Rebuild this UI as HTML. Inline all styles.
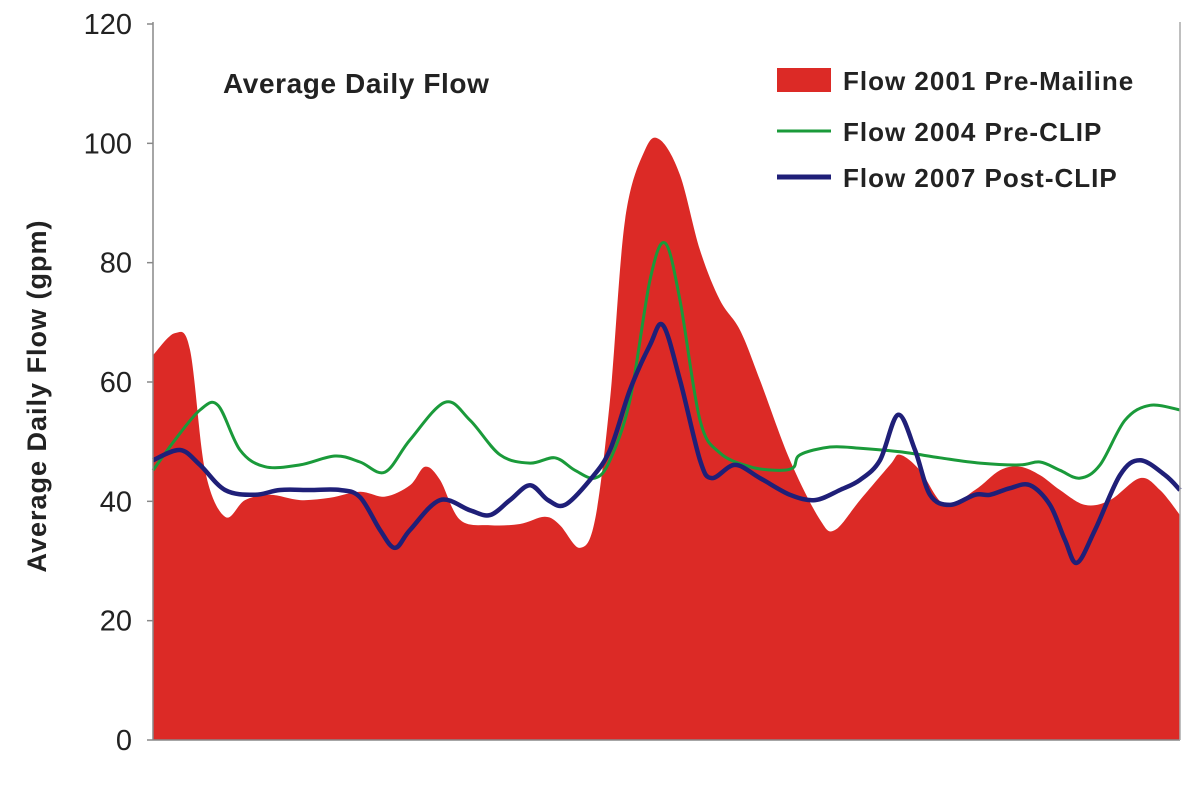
<!DOCTYPE html>
<html><head><meta charset="utf-8"><style>
body{margin:0;background:#fff;}
svg{display:block;font-family:"Liberation Sans",sans-serif;}
</style></head><body>
<svg id="chart" width="1200" height="809" viewBox="0 0 1200 809">
<g id="plot"></g>
<g id="axes"></g>
<text x="223" y="93" font-size="28" font-weight="bold" letter-spacing="0.6" fill="#222">Average Daily Flow</text>
<text transform="translate(46,396) rotate(-90)" text-anchor="middle" font-size="27" font-weight="bold" letter-spacing="1" fill="#222">Average Daily Flow (gpm)</text>
<g>
<rect x="777" y="68" width="54" height="24" fill="#dc2a26"/>
<text x="843" y="90" font-size="26" font-weight="bold" letter-spacing="1" fill="#222">Flow 2001 Pre-Mailine</text>
<line x1="777" y1="131" x2="831" y2="131" stroke="#1a9a3a" stroke-width="3"/>
<text x="843" y="141" font-size="26" font-weight="bold" letter-spacing="1" fill="#222">Flow 2004 Pre-CLIP</text>
<line x1="777" y1="177" x2="831" y2="177" stroke="#1f1f78" stroke-width="5"/>
<text x="843" y="187" font-size="26" font-weight="bold" letter-spacing="1" fill="#222">Flow 2007 Post-CLIP</text>
</g>
</svg>
<script>
const yTicks=[0,20,40,60,80,100,120];
const redX=[0,22,37,52,72,92,117,147,177,207,232,257,272,287,307,337,367,392,407,427,442,457,472,492,507,527,547,567,587,607,637,667,682,707,737,747,767,792,822,847,867,887,907,932,957,987,1007,1027];
const redY=[64.5,68.2,65.4,45.2,37.4,40.2,41.1,40.2,40.6,41.6,40.8,42.7,45.8,43.6,36.9,36.0,36.2,37.4,36.0,32.2,36.9,57.0,87.1,98.9,100.6,94.7,82.1,73.7,68.7,60.3,46.9,36.9,35.2,40.2,46.1,47.8,45.2,39.4,41.9,45.2,45.8,44.4,41.9,39.4,40.2,43.9,41.9,37.7];
const greenX=[0,22,47,65,87,112,147,182,207,232,257,292,317,347,377,402,422,442,457,477,497,512,527,547,567,597,622,640,647,677,707,747,787,827,867,887,907,927,947,972,997,1027];
const greenY=[45.2,50.3,55.3,56.1,48.6,45.8,46.1,47.6,46.6,44.9,50.3,56.6,53.6,47.8,46.4,47.3,45.2,43.9,46.9,57.0,77.1,83.3,73.7,53.6,48.1,45.8,45.2,45.6,47.8,49.1,48.9,48.3,47.3,46.4,46.1,46.6,45.2,43.9,46.1,53.6,56.1,55.3];
const blueX=[0,27,47,72,102,127,157,187,207,227,242,257,287,317,337,357,377,395,412,437,457,477,497,510,527,547,559,582,607,637,662,687,707,727,745,762,777,797,822,837,857,877,897,912,924,942,967,987,1012,1027];
const blueY=[46.9,48.6,46.1,41.9,41.1,41.9,41.9,41.9,40.7,35.2,32.2,35.2,40.2,38.5,37.7,40.2,42.7,40.2,39.4,43.6,48.6,58.7,66.2,69.5,60.3,46.9,43.9,46.1,43.9,41.1,40.2,41.9,43.6,46.9,54.5,48.6,41.1,39.4,41.1,41.1,42.2,42.7,39.4,33.5,29.7,35.2,44.4,46.9,44.4,41.9];

const NS='http://www.w3.org/2000/svg';
const X0=153,X1=1180,Y0=740,Y1=24,XMAX=1027,YMAX=120;
function sx(v){return X0+v/XMAX*(X1-X0);}
function sy(v){return Y0-v/YMAX*(Y0-Y1);}
function smooth(xs,ys){
  const p=xs.map((x,i)=>[sx(x),sy(ys[i])]);
  let d='M'+p[0][0].toFixed(1)+','+p[0][1].toFixed(1);
  for(let i=0;i<p.length-1;i++){
    const a=p[Math.max(0,i-1)],b=p[i],c=p[i+1],e=p[Math.min(p.length-1,i+2)];
    const c1=[b[0]+(c[0]-a[0])/6,b[1]+(c[1]-a[1])/6],c2=[c[0]-(e[0]-b[0])/6,c[1]-(e[1]-b[1])/6];
    d+='C'+c1[0].toFixed(1)+','+c1[1].toFixed(1)+' '+c2[0].toFixed(1)+','+c2[1].toFixed(1)+' '+c[0].toFixed(1)+','+c[1].toFixed(1);
  }
  return d;
}
const plot=document.getElementById('plot'),axes=document.getElementById('axes');
const area=document.createElementNS(NS,'path');


area.setAttribute('d','M'+sx(redX[0])+','+Y0+'L'+smooth(redX,redY).slice(1)+'L'+sx(redX[redX.length-1])+','+Y0+'Z');
area.setAttribute('fill','#dc2a26');
plot.appendChild(area);
const g=document.createElementNS(NS,'path');


g.setAttribute('d',smooth(greenX,greenY));
g.setAttribute('fill','none');g.setAttribute('stroke','#1a9a3a');g.setAttribute('stroke-width','3');
plot.appendChild(g);
const b=document.createElementNS(NS,'path');


b.setAttribute('d',smooth(blueX,blueY));
b.setAttribute('fill','none');b.setAttribute('stroke','#1f1f78');b.setAttribute('stroke-width','4.5');
plot.appendChild(b);
function ln(x1,y1,x2,y2,name,col,w){
  const l=document.createElementNS(NS,'line');
  
  
  l.setAttribute('x1',x1);l.setAttribute('y1',y1);l.setAttribute('x2',x2);l.setAttribute('y2',y2);
  l.setAttribute('stroke',col);l.setAttribute('stroke-width',w);axes.appendChild(l);
}
ln(X0,Y1-2,X0,Y0,'y-axis','#888',1.5);
ln(X0,Y0,X1,Y0,'x-axis','#888',1.5);
ln(X1,Y1-2,X1,Y0,'right-border','#aaa',1.5);
yTicks.forEach(t=>{
  ln(X0-6,sy(t),X0,sy(t),'y-tick','#888',1.5);
  const tx=document.createElementNS(NS,'text');
  
  
  tx.setAttribute('x',132);tx.setAttribute('y',sy(t)+10);
  tx.setAttribute('text-anchor','end');tx.setAttribute('font-size','29');tx.setAttribute('fill','#222');
  tx.textContent=t;axes.appendChild(tx);
});
</script>
</body></html>
